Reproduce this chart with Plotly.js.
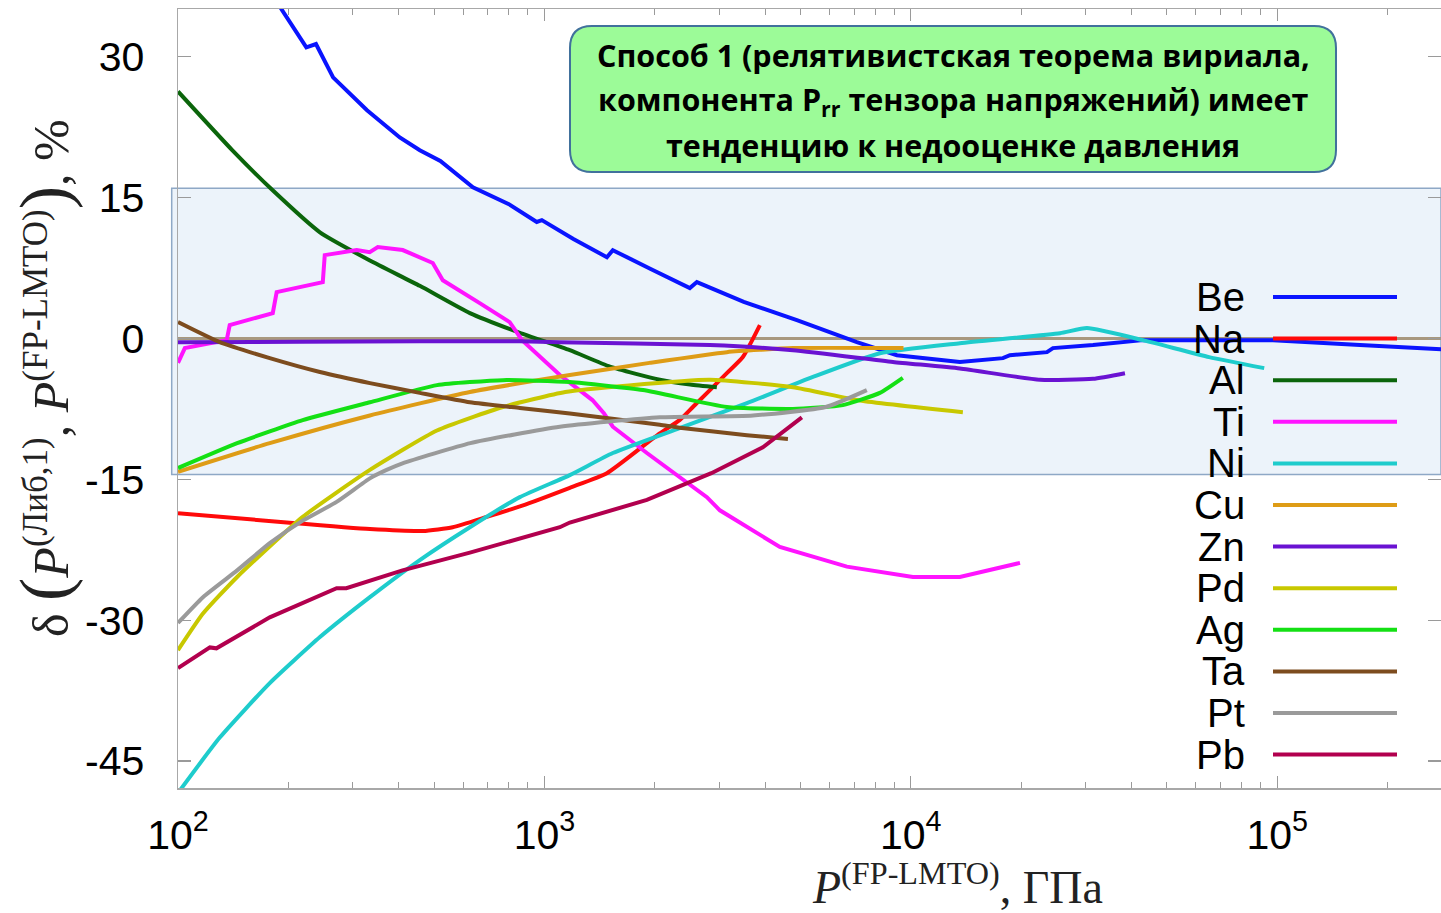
<!DOCTYPE html>
<html>
<head>
<meta charset="utf-8">
<script src="https://cdn.plot.ly/plotly-3.0.1.min.js"></script>
<style>
  html, body { margin: 0; padding: 0; background: #ffffff; overflow: hidden; }
  #chart { width: 1441px; height: 913px; }
</style>
</head>
<body>
<div id="chart"></div>
<script>
// Relative deviation of the virial-theorem pressure from FP-LMTO, per element
const metals = ['Be', 'Na', 'Al', 'Ti', 'Ni', 'Cu', 'Zn', 'Pd', 'Ag', 'Ta', 'Pt', 'Pb'];
const colors = ['#0a14ff', '#ff0a0a', '#0b650b', '#ff14ff', '#1ecccc', '#de9c16',
                '#6a12d2', '#c8c800', '#14e014', '#7d4c1e', '#9a9a9a', '#b2004e'];

// pressure, GPa
const beP = [184, 192, 224, 238, 265, 328, 403, 457, 520, 638, 800, 953, 984, 1200, 1481, 1537, 1950, 2494, 2607, 3500, 4887, 7125, 9163, 13610, 17840, 18640, 23530, 24430, 31420, 43010, 58900, 97400, 168300, 280000];
const beD = [36.2, 35.0, 31.0, 31.35, 27.8, 24.3, 21.4, 20.05, 18.9, 16.1, 14.3, 12.4, 12.6, 10.6, 8.65, 9.4, 7.4, 5.36, 6.0, 3.9, 1.95, -0.39, -1.78, -2.52, -2.1, -1.78, -1.46, -1.03, -0.71, -0.18, -0.18, -0.18, -0.71, -1.14];

const naP = [100, 198, 334, 466, 562, 696, 870, 1173, 1481, 1904, 2065, 2338, 2542, 3147, 3480, 3873];
const naD = [-18.6, -19.6, -20.3, -20.5, -20.1, -19.0, -17.8, -15.9, -14.35, -11.15, -10.1, -8.7, -7.3, -3.7, -1.98, 1.42];

const alP = [100, 141, 181, 244, 334, 457, 626, 857, 1173, 1509, 2065, 2500, 2955];
const alD = [26.3, 20.0, 15.8, 11.3, 8.3, 5.6, 2.7, 0.6, -1.25, -3.0, -4.4, -4.9, -5.2];

const tiP = [100, 104.4, 135.8, 138.4, 181.4, 185.9, 248.4, 251.5, 307.4, 333.7, 351, 410.6, 495.8, 528, 666, 804, 869, 1102, 1352, 1453, 1537, 1712, 1904, 2776, 3012, 4391, 6691, 10130, 13610, 19860];
const tiD = [-2.6, -1.03, -0.18, 1.42, 2.7, 4.93, 6.0, 8.87, 9.41, 9.19, 9.73, 9.41, 8.03, 6.2, 3.76, 1.74, -0.18, -3.9, -6.56, -7.95, -9.4, -10.8, -12.2, -16.9, -18.3, -22.2, -24.3, -25.4, -25.4, -23.9];

const niP = [100, 130, 178, 244, 334, 457, 626, 857, 1173, 1537, 2338, 3570, 5405, 8232, 13610, 25540, 30250, 43010, 65200, 92150];
const niD = [-48.4, -42.5, -36.7, -31.8, -27.55, -23.6, -20.1, -16.9, -14.55, -12.2, -9.55, -6.9, -4.1, -1.57, -0.5, 0.56, 1.1, -0.18, -1.99, -3.16];

const cuP = [100, 178, 334, 626, 1173, 1936, 3147, 4770, 9550];
const cuD = [-14.2, -11.15, -8.2, -5.7, -3.9, -2.6, -1.46, -1.03, -1.03];

const znP = [100, 215, 457, 857, 1102, 2828, 4770, 8938, 13610, 22520, 31420, 38410];
const znD = [-0.4, -0.35, -0.3, -0.3, -0.4, -0.7, -1.25, -2.5, -3.2, -4.4, -4.3, -3.7];

const pdP = [100, 117, 145, 219, 334, 509, 770, 1140, 1700, 2828, 4770, 7255, 13870];
const pdD = [-33.2, -29.3, -25.4, -19.0, -14.0, -9.8, -7.3, -5.7, -5.0, -4.4, -5.2, -6.6, -7.85];

const agP = [100, 145, 219, 334, 509, 770, 1173, 1858, 3147, 4770, 6522, 8232, 9510];
const agD = [-13.8, -11.15, -8.7, -6.8, -4.97, -4.44, -4.65, -5.5, -7.3, -7.5, -7.1, -5.8, -4.2];

const taP = [100, 130, 178, 244, 334, 457, 626, 857, 1173, 2065, 2338, 3570, 4620];
const taD = [1.74, -0.4, -2.1, -3.58, -4.76, -5.8, -6.8, -7.4, -7.98, -9.2, -9.5, -10.3, -10.7];

const ptP = [100, 117, 145, 178, 219, 271, 334, 371, 410, 628, 1102, 2065, 3709, 5857, 7585];
const ptD = [-30.3, -27.55, -24.7, -21.8, -19.4, -17.4, -14.9, -14.0, -13.3, -11.15, -9.4, -8.4, -8.2, -7.3, -5.5];

const pbP = [100, 122.2, 127.3, 178, 271, 288, 410, 626, 1102, 1173, 1904, 2855, 3946, 5043];
const pbD = [-35.1, -32.9, -33.0, -29.7, -26.6, -26.6, -24.7, -22.8, -20.1, -19.6, -17.2, -14.35, -11.6, -8.4];

const seriesP = [beP, naP, alP, tiP, niP, cuP, znP, pdP, agP, taP, ptP, pbP];
const seriesD = [beD, naD, alD, tiD, niD, cuD, znD, pdD, agD, taD, ptD, pbD];

// tick labels
const xTickVals = [1e2, 1e3, 1e4, 1e5];
const xTickText = ['10<sup>2</sup>', '10<sup>3</sup>', '10<sup>4</sup>', '10<sup>5</sup>'];
const yTickVals = [-45, -30, -15, 0, 15, 30];
const yTickText = ['-45', '-30', '-15', '0', '15', '30'];

// shaded tolerance band, %
const bandLow = -14.5, bandHigh = 16.0;

const boxLines = [
  'Способ 1 (релятивистская теорема вириала,',
  'компонента P<sub>rr</sub> тензора напряжений) имеет',
  'тенденцию к недооценке давления'
];

// ---- geometry ----
const W = 1441, H = 913;
const M = { l: 178, r: 0, t: 9, b: 125 };
const PW = W - M.l - M.r, PH = H - M.t - M.b;
const xRange = [2, 5.447];
const yRange = [-47.87, 35.08];
const px = x => (x - M.l) / PW;          // pixel column -> paper x
const py = y => (H - M.b - y) / PH;      // pixel row -> paper y
const vy = v => (v - yRange[0]) / (yRange[1] - yRange[0]);

const smoothSet = new Set(['Na', 'Al', 'Ni', 'Cu', 'Zn', 'Pd', 'Ag', 'Ta', 'Pt']);
const traces = metals.map((m, i) => ({
  type: 'scatter', mode: 'lines', name: m,
  x: seriesP[i], y: seriesD[i],
  line: { color: colors[i], width: 4, shape: smoothSet.has(m) ? 'spline' : 'linear', smoothing: 0.5 },
  showlegend: false, hoverinfo: 'x+y+name'
}));

function roundRect(x0, y0, x1, y1, r) {
  const X = v => px(v).toFixed(5), Y = v => py(v).toFixed(5);
  return `M ${X(x0 + r)} ${Y(y0)} L ${X(x1 - r)} ${Y(y0)} Q ${X(x1)} ${Y(y0)} ${X(x1)} ${Y(y0 + r)} ` +
         `L ${X(x1)} ${Y(y1 - r)} Q ${X(x1)} ${Y(y1)} ${X(x1 - r)} ${Y(y1)} ` +
         `L ${X(x0 + r)} ${Y(y1)} Q ${X(x0)} ${Y(y1)} ${X(x0)} ${Y(y1 - r)} ` +
         `L ${X(x0)} ${Y(y0 + r)} Q ${X(x0)} ${Y(y0)} ${X(x0 + r)} ${Y(y0)} Z`;
}

const shapes = [
  { type: 'rect', xref: 'paper', yref: 'paper', layer: 'below',
    x0: px(171.7), x1: 1, y0: vy(bandLow), y1: vy(bandHigh),
    fillcolor: '#ecf3fa', line: { color: '#8ea8c6', width: 1.5 } },
  { type: 'path', xref: 'paper', yref: 'paper', layer: 'above',
    path: roundRect(570, 26, 1336, 172, 22),
    fillcolor: '#9cfb98', line: { color: '#41719c', width: 2 } }
];

const annotations = [];
const sansFont = 'Liberation Sans, Arial, sans-serif';
const serifFont = 'Liberation Serif, DejaVu Serif, serif';

// legend: label to the left, line sample to the right
metals.forEach((m, i) => {
  const yRow = 297 + i * 41.6;
  shapes.push({ type: 'line', xref: 'paper', yref: 'paper', layer: 'above',
    x0: px(1273), x1: px(1397), y0: py(yRow), y1: py(yRow),
    line: { color: colors[i], width: 4 } });
  annotations.push({ xref: 'paper', yref: 'paper', x: px(1247), y: py(yRow),
    xanchor: 'right', yanchor: 'middle', showarrow: false, text: m,
    font: { family: sansFont, size: 40, color: '#000' } });
});

// text in the rounded box
const boxY = [55, 100, 145];
boxLines.forEach((t, i) => {
  annotations.push({ xref: 'paper', yref: 'paper', x: px(953), y: py(boxY[i]),
    xanchor: 'center', yanchor: 'middle', showarrow: false, text: '<b>' + t + '</b>',
    font: { family: 'Open Sans, Noto Sans, sans-serif', size: 30.5, color: '#000' } });
});

// axis titles
annotations.push({ xref: 'paper', yref: 'paper', x: px(957), y: py(884),
  xanchor: 'center', yanchor: 'middle', showarrow: false,
  text: '<i>P</i><sup>(FP-LMTO)</sup>, ГПа',
  font: { family: serifFont, size: 46, color: '#222' } });
annotations.push({ xref: 'paper', yref: 'paper', x: px(44), y: py(378),
  xanchor: 'center', yanchor: 'middle', showarrow: false, textangle: -90,
  text: 'δ <span style="font-size:70px">(</span><i>P</i><sup>(Либ,1)</sup>, <i>P</i><sup>(FP-LMTO)</sup><span style="font-size:70px">)</span>, %',
  font: { family: serifFont, size: 50, color: '#222' } });

const minorX = [];
for (let d = 2; d <= 5; d++) for (let k = 2; k <= 9; k++) minorX.push(k * Math.pow(10, d));

const layout = {
  width: W, height: H,
  margin: M,
  paper_bgcolor: '#ffffff', plot_bgcolor: 'rgba(0,0,0,0)',
  showlegend: false,
  xaxis: {
    type: 'log', range: xRange,
    tickmode: 'array', tickvals: xTickVals, ticktext: xTickText,
    ticks: 'inside', ticklen: 12, tickwidth: 1.2, tickcolor: '#9a9a9a',
    minor: { tickmode: 'array', tickvals: minorX, ticks: 'inside', ticklen: 6, tickwidth: 1, tickcolor: '#9a9a9a', showgrid: false },
    showline: true, linecolor: '#a8a8a8', linewidth: 1.5, mirror: 'ticks',
    showgrid: false, zeroline: false,
    ticklabelstandoff: 10,
    tickfont: { family: sansFont, size: 41, color: '#000' }
  },
  yaxis: {
    range: yRange,
    tickmode: 'array', tickvals: yTickVals, ticktext: yTickText,
    ticks: 'inside', ticklen: 13, tickwidth: 1.2, tickcolor: '#9a9a9a',
    showline: true, linecolor: '#a8a8a8', linewidth: 1.5, mirror: 'ticks',
    showgrid: false,
    zeroline: true, zerolinecolor: '#a8987f', zerolinewidth: 2.5,
    ticklabelstandoff: 24,
    tickfont: { family: sansFont, size: 41, color: '#000' }
  },
  shapes: shapes,
  annotations: annotations
};

Plotly.newPlot('chart', traces, layout, { displayModeBar: false, staticPlot: true });
</script>
</body>
</html>
